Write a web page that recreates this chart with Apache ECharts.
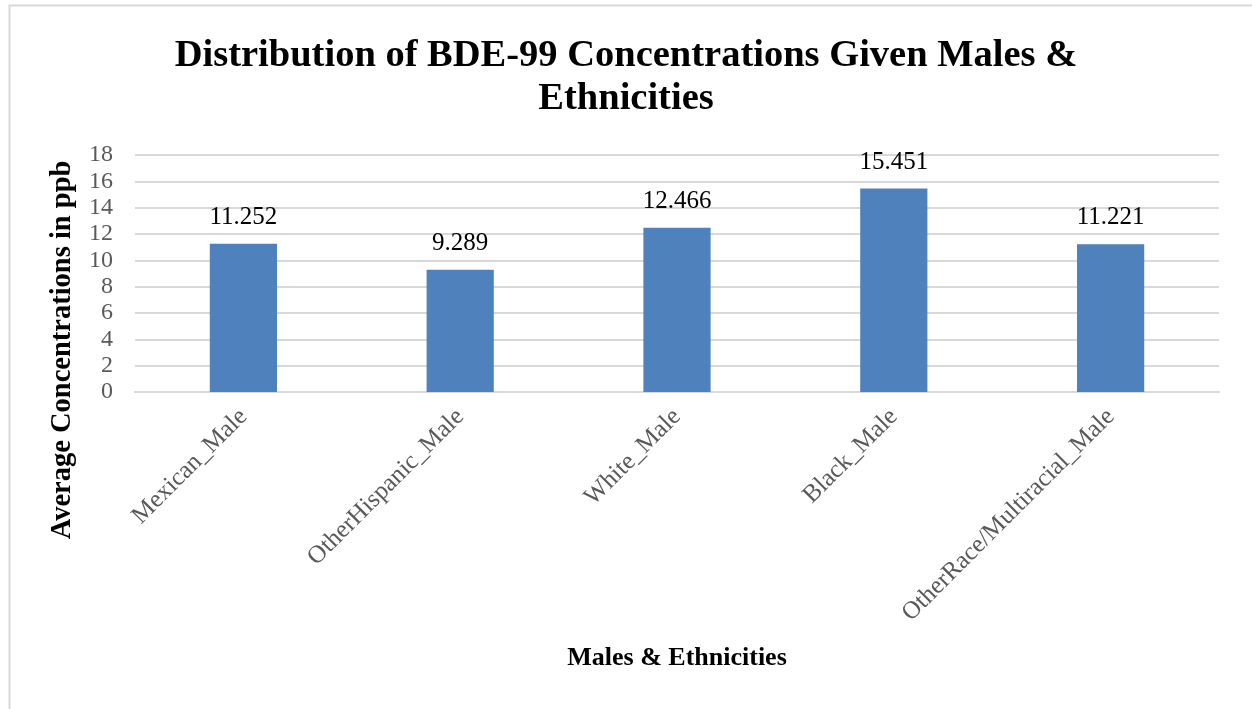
<!DOCTYPE html>
<html>
<head>
<meta charset="utf-8">
<script src="https://cdn.jsdelivr.net/npm/echarts@6/dist/echarts.min.js"></script>
<style>
html,body{margin:0;padding:0;background:#fff;}
#c{width:1252px;height:709px;}
</style>
</head>
<body>
<div id="c"></div>
<script>
const categories = ["Mexican_Male", "OtherHispanic_Male", "White_Male", "Black_Male", "OtherRace/Multiracial_Male"];
const values = [11.252, 9.289, 12.466, 15.451, 11.221];
const yTicks = [0, 2, 4, 6, 8, 10, 12, 14, 16, 18];
const titleText = "Distribution of BDE-99 Concentrations Given Males &\nEthnicities";
const yTitle = "Average Concentrations in ppb";
const xTitle = "Males & Ethnicities";

const FONT = "'Liberation Serif', 'DejaVu Serif', serif";
const chart = echarts.init(document.getElementById('c'), null, {renderer: 'canvas'});
chart.setOption({
  backgroundColor: '#fff',
  animation: false,
  title: {
    text: titleText,
    left: 'center',
    top: 30,
    textStyle: {fontFamily: FONT, fontWeight: 'bold', fontSize: 38.5, color: '#000', lineHeight: 43}
  },
  graphic: [
    {type: 'rect', left: 7, top: 3, shape: {width: 1260, height: 720}, style: {fill: 'none', stroke: '#d9d9d9', lineWidth: 2}, silent: true},
    {type: 'text', x: 63, y: 350, rotation: Math.PI / 2,
      style: {text: yTitle, fontFamily: FONT, fontWeight: 'bold', fontSize: 28.5, fill: '#000', align: 'center', verticalAlign: 'middle'}},
    {type: 'text', x: 677, y: 658,
      style: {text: xTitle, fontFamily: FONT, fontWeight: 'bold', fontSize: 26, fill: '#000', align: 'center', verticalAlign: 'middle'}}
  ],
  grid: {left: 135, right: 33, top: 155, bottom: 317, containLabel: false},
  xAxis: {
    type: 'category',
    data: categories,
    axisLine: {show: true, lineStyle: {color: '#d9d9d9', width: 2}},
    axisTick: {show: false},
    axisLabel: {rotate: 45, margin: 21, interval: 0, fontFamily: FONT, fontSize: 25, color: '#595959'}
  },
  yAxis: {
    type: 'value',
    min: 0, max: 18, interval: 2,
    axisLine: {show: false},
    axisTick: {show: false},
    axisLabel: {margin: 22, fontFamily: FONT, fontSize: 24, color: '#595959',
      formatter: v => yTicks.includes(v) ? String(v) : ''},
    splitLine: {lineStyle: {color: '#d9d9d9', width: 2}}
  },
  series: [{
    type: 'bar',
    data: values,
    barWidth: '31%',
    itemStyle: {color: '#4f81bd'},
    label: {show: true, position: 'top', distance: 14, fontFamily: FONT, fontSize: 25, color: '#000',
      formatter: p => p.value.toFixed(3)}
  }]
});
</script>
</body>
</html>
